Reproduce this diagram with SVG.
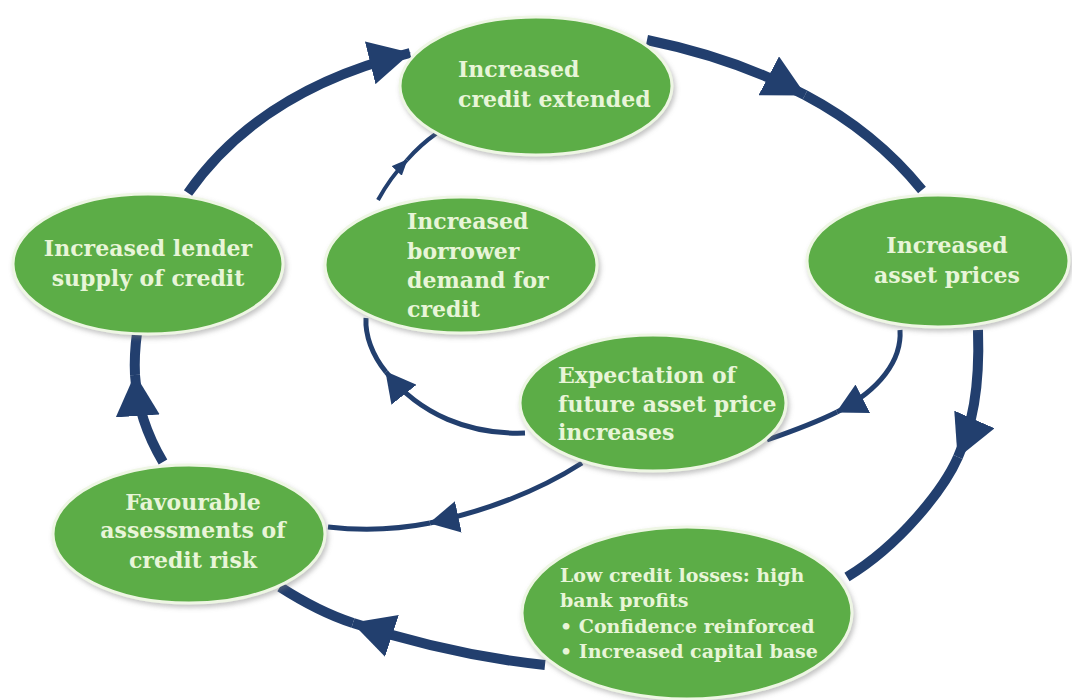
<svg xmlns="http://www.w3.org/2000/svg" width="1072" height="700" viewBox="0 0 1072 700">
  <defs>
    <style>
      .node { fill: #5cad46; stroke: #eef6e4; stroke-width: 3; filter: url(#shadow); }
      .label { font-family: "DejaVu Serif", "Liberation Serif", serif; font-weight: bold; font-size: 22px; fill: #e8f5d8; }
      .small { font-size: 19px; }
      .mid { text-anchor: middle; }
      .outer { fill: none; stroke: #223f6e; stroke-width: 10; }
      .inner { fill: none; stroke: #223f6e; stroke-width: 5; }
      .thin { fill: none; stroke: #223f6e; stroke-width: 4; }
    </style>
    <filter id="shadow" x="-10%" y="-10%" width="125%" height="130%">
      <feDropShadow dx="2" dy="3" stdDeviation="2.5" flood-color="#7a7a7a" flood-opacity="0.45"/>
    </filter>
    <marker id="big" markerUnits="userSpaceOnUse" viewBox="0 0 42 44" refX="41" refY="22" markerWidth="42" markerHeight="44" orient="auto">
      <path d="M0,0 L42,22 L0,44 z" fill="#223f6e"/>
    </marker>
    <marker id="med" markerUnits="userSpaceOnUse" viewBox="0 0 30 32" refX="29" refY="16" markerWidth="30" markerHeight="32" orient="auto">
      <path d="M0,0 L30,16 L0,32 z" fill="#223f6e"/>
    </marker>
    <marker id="sm" markerUnits="userSpaceOnUse" viewBox="0 0 16 14" refX="15" refY="7" markerWidth="16" markerHeight="14" orient="auto">
      <path d="M0,0 L16,7 L0,14 z" fill="#223f6e"/>
    </marker>
  </defs>
  <rect width="1072" height="700" fill="#ffffff"/>

  <g id="connectors">
    <!-- outer loop -->
    <path class="outer" d="M188,193 Q260,90 410,53" marker-end="url(#big)"/>
    <path class="outer" d="M647,40 Q735,58 805,95" marker-end="url(#big)"/>
    <path class="outer" d="M805,95 Q875,132 922,190"/>
    <path class="outer" d="M978,330 C980,390 972,425 958,457" marker-end="url(#big)"/>
    <path class="outer" d="M958,457 C944,489 900,545 847,577"/>
    <path class="outer" d="M545,665 Q450,655 353,623" marker-end="url(#big)"/>
    <path class="outer" d="M353,623 Q319,612 280,587"/>
    <path class="outer" d="M163,462 Q138,420 135,375" marker-end="url(#big)"/>
    <path class="outer" d="M135,375 Q134,355 137,333"/>
    <!-- inner loop -->
    <path class="thin" d="M378,200 Q390,178 407,160" marker-end="url(#sm)"/>
    <path class="thin" d="M407,160 Q420,145 437,133"/>
    <path class="inner" d="M525,433 C470,435 420,415 386,372" marker-end="url(#med)"/>
    <path class="inner" d="M386,372 C372,355 365,335 366,318"/>
    <path class="inner" d="M900,330 C902,360 880,390 837,412" marker-end="url(#med)"/>
    <path class="inner" d="M837,412 C815,423 790,432 767,440"/>
    <path class="inner" d="M582,463 C540,490 490,510 430,523" marker-end="url(#med)"/>
    <path class="inner" d="M430,523 C390,531 355,530 328,527"/>
  </g>

  <g id="node-credit-extended">
    <ellipse class="node" cx="536" cy="86" rx="136" ry="69"/>
    <text class="label" x="458" y="77">Increased</text>
    <text class="label" x="458" y="107">credit extended</text>
  </g>

  <g id="node-lender-supply">
    <ellipse class="node" cx="148" cy="264" rx="135" ry="70"/>
    <text class="label mid" x="148" y="256">Increased lender</text>
    <text class="label mid" x="148" y="286">supply of credit</text>
  </g>

  <g id="node-borrower-demand">
    <ellipse class="node" cx="461" cy="265" rx="136" ry="68"/>
    <text class="label" x="407" y="229">Increased</text>
    <text class="label" x="407" y="259">borrower</text>
    <text class="label" x="407" y="288">demand for</text>
    <text class="label" x="407" y="317">credit</text>
  </g>

  <g id="node-asset-prices">
    <ellipse class="node" cx="938" cy="261" rx="131" ry="66"/>
    <text class="label mid" x="947" y="253">Increased</text>
    <text class="label mid" x="947" y="283">asset prices</text>
  </g>

  <g id="node-expectation">
    <ellipse class="node" cx="653" cy="403" rx="133" ry="68"/>
    <text class="label" x="558" y="383">Expectation of</text>
    <text class="label" x="558" y="412">future asset price</text>
    <text class="label" x="558" y="440">increases</text>
  </g>

  <g id="node-low-losses">
    <ellipse class="node" cx="687" cy="613" rx="165" ry="86"/>
    <text class="label small" x="560" y="582">Low credit losses: high</text>
    <text class="label small" x="560" y="607">bank profits</text>
    <text class="label small" x="560" y="633">• Confidence reinforced</text>
    <text class="label small" x="560" y="658">• Increased capital base</text>
  </g>

  <g id="node-favourable">
    <ellipse class="node" cx="189" cy="534" rx="136" ry="69"/>
    <text class="label mid" x="193" y="510">Favourable</text>
    <text class="label mid" x="193" y="538">assessments of</text>
    <text class="label mid" x="193" y="568">credit risk</text>
  </g>
</svg>
